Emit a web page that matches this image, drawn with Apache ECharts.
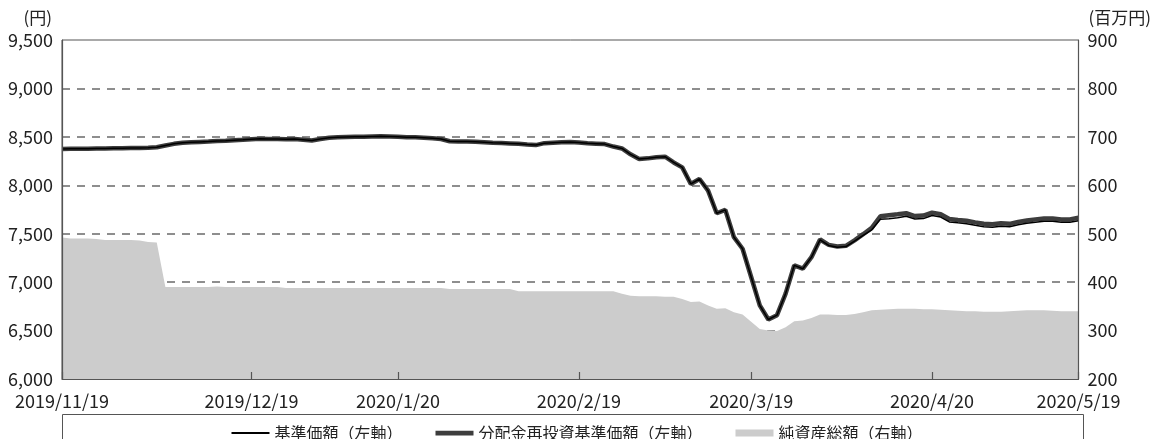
<!DOCTYPE html>
<html>
<head>
<meta charset="utf-8">
<script src="https://cdn.jsdelivr.net/npm/echarts@6/dist/echarts.min.js"></script>
<style>
  html, body { margin: 0; padding: 0; background: #fff; }
  #chart { width: 1154px; height: 439px; }
</style>
</head>
<body>
<div id="chart"></div>
<script>
// trading days, 2019/11/19 - 2020/5/19
const dates = [
  '2019/11/19', '2019/11/20', '2019/11/21', '2019/11/22', '2019/11/25', '2019/11/26', '2019/11/27', '2019/11/28', '2019/11/29',
  '2019/12/2', '2019/12/3', '2019/12/4', '2019/12/5', '2019/12/6', '2019/12/9', '2019/12/10', '2019/12/11', '2019/12/12', '2019/12/13',
  '2019/12/16', '2019/12/17', '2019/12/18', '2019/12/19', '2019/12/20', '2019/12/23', '2019/12/24', '2019/12/25', '2019/12/26', '2019/12/27', '2019/12/30',
  '2020/1/6', '2020/1/7', '2020/1/8', '2020/1/9', '2020/1/10', '2020/1/14', '2020/1/15', '2020/1/16', '2020/1/17',
  '2020/1/20', '2020/1/21', '2020/1/22', '2020/1/23', '2020/1/24', '2020/1/27', '2020/1/28', '2020/1/29', '2020/1/30', '2020/1/31',
  '2020/2/3', '2020/2/4', '2020/2/5', '2020/2/6', '2020/2/7', '2020/2/10', '2020/2/12', '2020/2/13', '2020/2/14',
  '2020/2/17', '2020/2/18', '2020/2/19', '2020/2/20', '2020/2/21', '2020/2/25', '2020/2/26', '2020/2/27', '2020/2/28',
  '2020/3/2', '2020/3/3', '2020/3/4', '2020/3/5', '2020/3/6', '2020/3/9', '2020/3/10', '2020/3/11', '2020/3/12', '2020/3/13',
  '2020/3/16', '2020/3/17', '2020/3/18', '2020/3/19', '2020/3/23', '2020/3/24', '2020/3/25', '2020/3/26', '2020/3/27', '2020/3/30', '2020/3/31',
  '2020/4/1', '2020/4/2', '2020/4/3', '2020/4/6', '2020/4/7', '2020/4/8', '2020/4/9', '2020/4/10',
  '2020/4/13', '2020/4/14', '2020/4/15', '2020/4/16', '2020/4/17', '2020/4/20', '2020/4/21', '2020/4/22', '2020/4/23', '2020/4/24',
  '2020/4/27', '2020/4/28', '2020/4/30', '2020/5/1', '2020/5/7', '2020/5/8', '2020/5/11', '2020/5/12', '2020/5/13', '2020/5/14', '2020/5/15',
  '2020/5/18', '2020/5/19'
];

const labelDates = ['2019/11/19', '2019/12/19', '2020/1/20', '2020/2/19', '2020/3/19', '2020/4/20', '2020/5/19'];

// 基準価額 (円)
const navValues = [
  8375, 8376, 8377, 8378, 8380, 8381, 8382, 8383, 8384, 8385,
  8388, 8392, 8410, 8428, 8440, 8444, 8448, 8451, 8456, 8460,
  8465, 8470, 8476, 8480, 8478, 8478, 8476, 8478, 8470, 8462,
  8478, 8490, 8495, 8498, 8500, 8502, 8504, 8505, 8503, 8500,
  8497, 8496, 8492, 8486, 8478, 8455, 8453, 8452, 8450, 8445,
  8440, 8436, 8432, 8428, 8420, 8415, 8435, 8440, 8445, 8448,
  8442, 8435, 8430, 8425, 8400, 8380, 8320, 8272, 8278, 8290,
  8295, 8236, 8185, 8014, 8065, 7945, 7711, 7746, 7464, 7345,
  7053, 6761, 6614, 6659, 6882, 7173, 7139, 7258, 7437, 7379,
  7361, 7367, 7423, 7482, 7540, 7650, 7655, 7665, 7680, 7652,
  7656, 7688, 7672, 7622, 7612, 7604, 7587, 7572, 7567, 7577,
  7572, 7592, 7607, 7618, 7628, 7628, 7618, 7618, 7635
];

// 分配金再投資基準価額 (円)
const reinvestValues = [
  8375, 8376, 8377, 8378, 8380, 8381, 8382, 8383, 8384, 8385,
  8388, 8392, 8410, 8428, 8440, 8444, 8448, 8451, 8456, 8460,
  8465, 8470, 8476, 8480, 8478, 8478, 8476, 8478, 8470, 8462,
  8478, 8490, 8495, 8498, 8500, 8502, 8504, 8505, 8503, 8500,
  8497, 8496, 8492, 8486, 8478, 8455, 8453, 8452, 8450, 8445,
  8440, 8436, 8432, 8428, 8420, 8415, 8435, 8440, 8445, 8448,
  8442, 8435, 8430, 8425, 8400, 8380, 8320, 8272, 8278, 8290,
  8295, 8236, 8185, 8014, 8065, 7945, 7711, 7746, 7464, 7345,
  7053, 6761, 6614, 6659, 6882, 7173, 7139, 7258, 7440, 7385,
  7368, 7375, 7432, 7495, 7560, 7680, 7690, 7700, 7712, 7682,
  7687, 7718, 7702, 7652, 7642, 7634, 7617, 7602, 7597, 7607,
  7602, 7622, 7637, 7648, 7658, 7658, 7648, 7648, 7665
];

// 純資産総額 (百万円)
const netAssets = [
  492, 490, 490, 490, 489, 487, 487, 487, 487, 486,
  483, 482, 390, 390, 390, 390, 390, 390, 391, 390,
  390, 390, 390, 390, 390, 390, 388, 388, 388, 388,
  388, 388, 388, 388, 388, 388, 388, 388, 388, 388,
  388, 388, 388, 388, 388, 386, 386, 386, 386, 386,
  386, 386, 386, 381, 381, 381, 381, 381, 381, 381,
  381, 381, 381, 381, 381, 376, 372, 371, 371, 371,
  370, 370, 365, 359, 360, 352, 345, 346, 338, 333,
  318, 303, 300, 299, 307, 319, 321, 326, 333, 333,
  332, 332, 334, 338, 342, 343, 344, 345, 345, 345,
  344, 344, 343, 342, 341, 340, 340, 339, 339, 339,
  340, 341, 342, 342, 342, 341, 340, 340, 340
];

const FONT = '"Noto Sans CJK JP", "Noto Sans", sans-serif';
const TEXT = '#222';
const AXIS = '#555';
const GRIDLINE = '#6a6a6a';
const AREA = '#cccccc';

const chart = echarts.init(document.getElementById('chart'));

const showLabel = (index, value) => labelDates.includes(value);

chart.setOption({
  backgroundColor: '#fff',
  animation: false,
  textStyle: { fontFamily: FONT },
  grid: {
    left: 62, right: 71, top: 40, bottom: 60,
    show: true, borderColor: AXIS, borderWidth: 1, backgroundColor: 'transparent'
  },
  legend: {
    top: 420,
    left: 'center',
    itemWidth: 38,
    itemHeight: 7,
    itemGap: 33,
    textStyle: { fontFamily: FONT, fontSize: 16, color: TEXT },
    data: [
      { name: '基準価額（左軸）', icon: 'path://M0,0H40V2H0Z', itemStyle: { color: '#000' } },
      { name: '分配金再投資基準価額（左軸）', icon: 'path://M0,0H40V5H0Z', itemStyle: { color: '#3d3d3d' } },
      { name: '純資産総額（右軸）', icon: 'rect', itemStyle: { color: AREA } }
    ]
  },
  graphic: [
    {
      type: 'rect',
      shape: { x: 62.5, y: 414.5, width: 1021, height: 40 },
      style: { fill: 'none', stroke: AXIS, lineWidth: 1 },
      silent: true
    }
  ],
  xAxis: {
    type: 'category',
    data: dates,
    boundaryGap: false,
    z: 5,
    axisLine: { show: true, lineStyle: { color: AXIS, width: 1.2 } },
    axisTick: { show: true, inside: true, length: 7, interval: showLabel, lineStyle: { color: AXIS, width: 1.2 } },
    axisLabel: { interval: showLabel, color: TEXT, fontSize: 18, margin: 13, fontFamily: FONT },
    splitLine: { show: false }
  },
  yAxis: [
    {
      type: 'value',
      position: 'left',
      min: 6000, max: 9500, interval: 500,
      z: 5,
      name: '(円)',
      nameLocation: 'end',
      nameGap: 22,
      nameTextStyle: { color: TEXT, fontSize: 17, align: 'right', verticalAlign: 'middle', padding: [0, 10, 0, 0], fontFamily: FONT },
      axisLine: { show: true, lineStyle: { color: AXIS, width: 1.2 } },
      axisTick: { show: false },
      axisLabel: { color: TEXT, fontSize: 18, margin: 9, fontFamily: FONT,
        formatter: (v) => v.toLocaleString('en-US') },
      splitLine: { show: false }
    },
    {
      type: 'value',
      position: 'right',
      min: 200, max: 900, interval: 100,
      z: 5,
      name: '(百万円)',
      nameLocation: 'end',
      nameGap: 22,
      nameTextStyle: { color: TEXT, fontSize: 17, align: 'left', verticalAlign: 'middle', padding: [0, 0, 0, 10], fontFamily: FONT },
      axisLine: { show: true, lineStyle: { color: AXIS, width: 1.2 } },
      axisTick: { show: false },
      axisLabel: { color: TEXT, fontSize: 18, margin: 9, fontFamily: FONT },
      splitLine: { show: false }
    },
    {
      // gridlines only, kept beneath the series
      type: 'value',
      position: 'left',
      min: 6000, max: 9500, interval: 500,
      z: 0,
      axisLine: { show: false },
      axisTick: { show: false },
      axisLabel: { show: false },
      splitLine: {
        show: true, showMinLine: false, showMaxLine: false,
        lineStyle: { color: GRIDLINE, width: 1.5, type: [8, 7] }
      }
    }
  ],
  series: [
    {
      name: '純資産総額（右軸）',
      type: 'line',
      yAxisIndex: 1,
      data: netAssets,
      symbol: 'none',
      z: 1,
      lineStyle: { width: 0, color: AREA },
      itemStyle: { color: AREA },
      areaStyle: { color: AREA, opacity: 1 }
    },
    {
      name: '分配金再投資基準価額（左軸）',
      type: 'line',
      yAxisIndex: 0,
      data: reinvestValues,
      symbol: 'none',
      z: 2,
      lineStyle: { width: 4.5, color: '#3d3d3d' },
      itemStyle: { color: '#3d3d3d' }
    },
    {
      name: '基準価額（左軸）',
      type: 'line',
      yAxisIndex: 0,
      data: navValues,
      symbol: 'none',
      z: 3,
      lineStyle: { width: 1.5, color: '#000' },
      itemStyle: { color: '#000' }
    }
  ]
});
</script>
</body>
</html>
